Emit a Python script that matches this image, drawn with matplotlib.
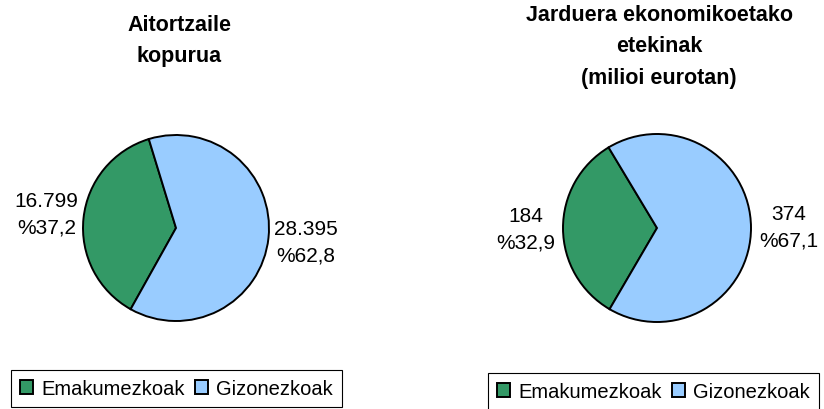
import matplotlib
matplotlib.use("Agg")
import matplotlib.pyplot as plt

plt.rcParams['font.family'] = ['Liberation Sans', 'DejaVu Sans']

# ---- data ----
categories = ["Emakumezkoak", "Gizonezkoak"]
colors = ["#339966", "#99CCFF"]

title_left = "Aitortzaile\nkopurua"
values_left = [16799, 28395]
pct_left = [37.2, 62.8]

title_right = "Jarduera ekonomikoetako\netekinak\n(milioi eurotan)"
values_right = [184, 374]
pct_right = [32.9, 67.1]

W, H = 824, 410
fig = plt.figure(figsize=(W / 100, H / 100), dpi=100)


def fmt_val(v):
    return f"{v:,}".replace(",", ".")


def fmt_pct(p):
    return ("%" + f"{p:.1f}").replace(".", ",")


def draw_pie(cx, cy, r, values, pcts, startangle, title, title_x, title_y,
             leg_x, leg_y):
    ax = fig.add_axes([(cx - r) / W, (H - cy - r) / H, 2 * r / W, 2 * r / H])
    labels = [fmt_val(v) + "\n" + fmt_pct(p) for v, p in zip(values, pcts)]
    wedges, texts = ax.pie(values, colors=colors, startangle=startangle,
                           counterclock=True, labels=labels, labeldistance=1.4,
                           wedgeprops=dict(edgecolor="black", linewidth=1.4),
                           textprops=dict(fontsize=15, ha="center", va="center",
                                          linespacing=1.5))
    ax.set_xlim(-1, 1)
    ax.set_ylim(-1, 1)
    ax.set_aspect("equal")
    fig.text(title_x / W, 1 - title_y / H, title, ha="center", va="center",
             fontsize=15.5, fontweight="bold", linespacing=1.66)
    leg = fig.legend(wedges, categories, loc="upper left",
                     bbox_to_anchor=(leg_x / W, 1 - leg_y / H), ncol=2,
                     frameon=True, fancybox=False, edgecolor="black",
                     fontsize=14.5, handlelength=0.65, handleheight=0.65,
                     handletextpad=0.4, columnspacing=0.5, borderpad=0.45,
                     borderaxespad=0)
    leg.get_frame().set_linewidth(0.8)
    leg.get_frame().set_alpha(None)
    return ax


draw_pie(176, 229, 93, values_left, pct_left, 107, title_left, 179, 41, 11, 371)
draw_pie(657, 229, 94, values_right, pct_right, 121, title_right, 659, 47, 488, 374)

fig.savefig("out.png", dpi=100)
